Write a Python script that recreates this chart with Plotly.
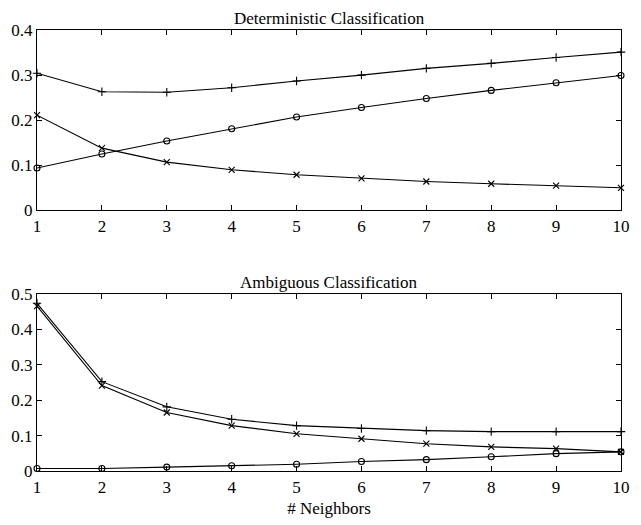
import plotly.graph_objects as go
from plotly.subplots import make_subplots

neighbors = [1, 2, 3, 4, 5, 6, 7, 8, 9, 10]

# Deterministic classification
det_plus = [0.304, 0.263, 0.262, 0.272, 0.287, 0.300, 0.315, 0.326, 0.339, 0.351]
det_circle = [0.094, 0.125, 0.154, 0.181, 0.207, 0.228, 0.248, 0.266, 0.283, 0.299]
det_x = [0.211, 0.138, 0.107, 0.090, 0.079, 0.071, 0.064, 0.059, 0.055, 0.050]

# Ambiguous classification
amb_plus = [0.473, 0.252, 0.181, 0.146, 0.128, 0.120, 0.114, 0.111, 0.111, 0.111]
amb_x = [0.465, 0.241, 0.165, 0.128, 0.105, 0.091, 0.077, 0.068, 0.063, 0.054]
amb_circle = [0.007, 0.007, 0.011, 0.015, 0.019, 0.027, 0.032, 0.040, 0.049, 0.054]

fig = make_subplots(rows=2, cols=1)

def add(y, sym, row):
    fig.add_trace(go.Scatter(
        x=neighbors, y=y, mode="lines+markers",
        line=dict(color="black", width=1.1),
        marker=dict(symbol=sym, size=6, color="black", line=dict(color="black", width=1.1)),
        cliponaxis=False, showlegend=False), row=row, col=1)

add(det_plus, "cross-thin-open", 1)
add(det_circle, "circle-open", 1)
add(det_x, "x-thin-open", 1)
add(amb_plus, "cross-thin-open", 2)
add(amb_x, "x-thin-open", 2)
add(amb_circle, "circle-open", 2)

font = dict(family="Liberation Serif", size=17, color="black")
axcommon = dict(showgrid=False, zeroline=False, showline=True, linecolor="black",
                linewidth=1.3, mirror="ticks", ticks="inside", ticklen=5,
                tickcolor="black", tickfont=font)

fig.update_xaxes(range=[1, 10], dtick=1, tick0=1, **axcommon)
fig.update_yaxes(**axcommon)
fig.update_yaxes(range=[0, 0.4], dtick=0.1, domain=[0.591, 1.0], row=1, col=1)
fig.update_yaxes(range=[0, 0.5], dtick=0.1, domain=[0.0, 0.402], row=2, col=1)
fig.update_xaxes(title=dict(text="# Neighbors", font=dict(family="Liberation Serif", size=17, color="black"), standoff=6), row=2, col=1)

fig.add_annotation(text="Deterministic Classification", x=0.5, y=1.0, xref="paper", yref="paper",
                   xanchor="center", yanchor="bottom", showarrow=False, yshift=0,
                   font=dict(family="Liberation Serif", size=17, color="black"))
fig.add_annotation(text="Ambiguous Classification", x=0.5, y=0.402, xref="paper", yref="paper",
                   xanchor="center", yanchor="bottom", showarrow=False, yshift=0,
                   font=dict(family="Liberation Serif", size=17, color="black"))

fig.update_layout(width=641, height=525, margin=dict(l=37, r=11, t=30, b=50),
                  plot_bgcolor="white", paper_bgcolor="white")

fig.write_html("out.html")
